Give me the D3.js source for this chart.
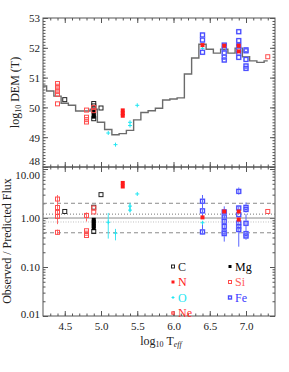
<!DOCTYPE html>
<meta charset="utf-8">
<style>
  body { margin: 0; background: #fff; }
  text { font-family: "Liberation Serif", "DejaVu Serif", serif; }
  .tick text { font-size: 11px; fill: #222; }
  .tick line { stroke: #555; }
</style>
<script src="https://d3js.org/d3.v7.min.js"></script>
<div id="my_dataviz"></div>
<script>
// DEM histogram (log T bin centres and log DEM)
const demT   = [4.2, 4.3, 4.4, 4.5, 4.6, 4.7, 4.8, 4.9, 5.0, 5.1, 5.2, 5.3, 5.4, 5.5, 5.6, 5.7,
                5.8, 5.9, 6.0, 6.1, 6.2, 6.3, 6.4, 6.5, 6.6, 6.7, 6.8, 6.9, 7.0, 7.1, 7.2, 7.3];
const demVal = [50.72, 50.55, 50.38, 50.14, 50.07, 49.88, 49.88, 49.94, 49.50, 49.26, 49.08, 49.12,
                49.23, 49.58, 49.83, 49.89, 49.97, 50.25, 50.28, 50.32, 51.12, 51.66, 52.12, 51.95,
                51.82, 51.95, 51.82, 51.99, 51.70, 51.56, 51.51, 51.56];

// top panel points [logT, logDEM]
const topC  = [[4.5, 50.26], [4.9, 50.13], [4.9, 50.05], [4.9, 49.97], [4.9, 49.62], [5.0, 49.98]];
const topMg = [[4.9, 49.90], [4.9, 49.83], [4.9, 49.76], [4.9, 49.69]];
const topSi = [[4.4, 50.80], [4.4, 50.71], [4.4, 50.62], [4.4, 50.53], [4.4, 50.44], [4.4, 50.12],
               [4.8, 49.91], [4.8, 49.67], [4.8, 49.59], [4.8, 49.51], [4.9, 50.00], [4.9, 49.89], [7.3, 51.70]];
const topN  = [[5.3, 49.90], [5.3, 49.80], [5.3, 49.72], [6.4, 52.09], [6.7, 52.07], [6.9, 52.07], [6.9, 51.88]];
const topO  = [[5.1, 49.14], [5.2, 48.75], [5.4, 49.50], [5.4, 49.39], [5.5, 50.07], [6.4, 51.98]];
const topFe = [[6.4, 52.43], [6.4, 52.26], [6.4, 51.85], [6.7, 52.09], [6.7, 51.96], [6.7, 51.83],
               [6.7, 51.69], [6.7, 51.59], [6.9, 52.54], [6.9, 52.24], [6.9, 52.07], [6.9, 51.95],
               [6.9, 51.82], [6.9, 51.68], [7.0, 51.93], [7.0, 51.90], [7.0, 51.61], [7.0, 51.39], [7.0, 51.31]];

// bottom panel [logT, ratio, errLo, errHi]
const ratC  = [[4.5, 1.36], [4.9, 1.66], [4.9, 0.53], [5.0, 3.0]];
const ratMg = [[4.9, 0.92], [4.9, 0.84], [4.9, 0.76], [4.9, 0.69], [4.9, 0.62]];
const ratSi = [[4.4, 2.44, 2.0, 2.95], [4.4, 1.64, 1.35, 2.0], [4.4, 1.30, 1.05, 1.6], [4.4, 1.08, 0.75, 1.4],
               [4.4, 0.51, 0.45, 0.58], [4.8, 1.13, 0.85, 1.3], [4.8, 0.55], [4.8, 0.49], [4.8, 0.44],
               [4.9, 1.6], [4.9, 1.33], [7.3, 1.36]];
const ratN  = [[5.3, 5.2], [5.3, 4.4], [6.4, 1.03], [6.7, 1.36], [6.9, 1.36], [6.9, 0.93]];
const ratO  = [[5.1, 0.82, 0.38, 1.27], [5.2, 0.49, 0.35, 0.6], [5.4, 1.75, 1.4, 2.05], [5.4, 1.45, 1.3, 1.75],
               [5.5, 3.1], [6.4, 0.8]];
const ratFe = [[6.4, 2.2, 1.6, 2.95], [6.4, 1.4, 1.0, 1.9], [6.4, 0.52, 0.46, 0.75],
               [6.7, 1.33, 1.0, 1.73], [6.7, 1.05], [6.7, 0.85, 0.33, 1.2], [6.7, 0.67], [6.7, 0.52], [6.7, 0.48],
               [6.9, 3.5, 3.0, 4.2], [6.9, 1.6, 1.2, 1.73], [6.9, 1.17], [6.9, 0.79, 0.26, 1.1], [6.9, 0.67], [6.9, 0.58],
               [7.0, 1.65, 1.3, 2.08], [7.0, 1.5], [7.0, 0.78, 0.36, 1.2], [7.0, 0.48], [7.0, 0.43]];

const xTicks = [4.5, 5.0, 5.5, 6.0, 6.5, 7.0];
const topTicks = [48, 49, 50, 51, 52, 53];
const botTicks = [0.01, 0.1, 1, 10];
const refLines = [2.0, 1.0, 0.5];

const legendNames = ["C", "N", "O", "Ne", "Mg", "Si", "Fe"];

const W = 289, H = 372;
const svg = d3.select("#my_dataviz").append("svg")
    .attr("width", W).attr("height", H);

const x = d3.scaleLinear().domain([4.2, 7.4]).range([43, 275]);
const yT = d3.scaleLinear().domain([48, 53]).range([167, 18]);
const yB = d3.scaleLog().domain([0.01, 11]).range([316, 167]);

const col = {C: "#222", N: "#ff1a1a", O: "#22e6f2", Ne: "#ff3030", Mg: "#000", Si: "#ff4d4d", Fe: "#3b3bff"};
const errCol = {Si: "#ff6a6a", O: "#3ee6f2", Fe: "#5a66ff", N: "#ff4040", C: "#444", Mg: "#444"};

function marker(g, type, cx, cy, color, s) {
  if (type === "open") {
    g.append("rect").attr("x", cx - s/2).attr("y", cy - s/2).attr("width", s).attr("height", s)
      .attr("fill", "none").attr("stroke", color).attr("stroke-width", 1);
  } else if (type === "filled") {
    g.append("rect").attr("x", cx - s/2).attr("y", cy - s/2).attr("width", s).attr("height", s)
      .attr("fill", color);
  } else if (type === "plus") {
    g.append("path").attr("d", `M${cx - s/2},${cy}H${cx + s/2}M${cx},${cy - s/2}V${cy + s/2}`)
      .attr("stroke", color).attr("stroke-width", 1);
  } else if (type === "fe") {
    g.append("rect").attr("x", cx - s/2).attr("y", cy - s/2).attr("width", s).attr("height", s)
      .attr("fill", "none").attr("stroke", "#8f97ff").attr("stroke-width", 1.6);
    g.append("rect").attr("x", cx - s/2).attr("y", cy - s/2).attr("width", s).attr("height", s)
      .attr("fill", "none").attr("stroke", color).attr("stroke-width", 0.8);
  } else if (type === "ne") {
    g.append("rect").attr("x", cx - s/2).attr("y", cy - s/2).attr("width", s).attr("height", s)
      .attr("fill", "#ff9a9a").attr("stroke", color).attr("stroke-width", 0.8);
  }
}

const sym = {C: "open", N: "filled", O: "plus", Ne: "ne", Mg: "filled", Si: "open", Fe: "fe"};

// ---------- frames, axes ----------
function frame(y0, y1) {
  svg.append("rect").attr("x", 43).attr("y", y0).attr("width", 232).attr("height", y1 - y0)
    .attr("fill", "none").attr("stroke", "#555").attr("stroke-width", 1);
}

function xAxes(yPos, withLabels, dir) {
  const minor = [];
  for (let i = 43; i <= 73; i++) minor.push(i / 10);
  const g = svg.append("g").attr("transform", `translate(0,${yPos})`);
  const ax = (dir === "up" ? d3.axisBottom(x) : d3.axisTop(x));
  g.call(ax.tickValues(xTicks).tickSize(-5).tickPadding(withLabels ? 6 : 0)
    .tickFormat(withLabels ? d3.format(".1f") : ""));
  g.select(".domain").remove();
  const g2 = svg.append("g").attr("transform", `translate(0,${yPos})`);
  g2.call((dir === "up" ? d3.axisBottom(x) : d3.axisTop(x)).tickValues(minor).tickSize(-2.5).tickFormat(""));
  g2.select(".domain").remove();
}

frame(18, 167);
frame(167, 316);

// y axes, both panels, both sides
const topMinor = [];
for (let i = 480; i <= 530; i++) topMinor.push(i / 10);
const botMinor = [];
[0.01, 0.1, 1].forEach(d => { for (let k = 2; k <= 9; k++) botMinor.push(d * k); });

[["left", 43], ["right", 275]].forEach(([side, px]) => {
  const mk = side === "left" ? d3.axisLeft : d3.axisRight;
  const g = svg.append("g").attr("class", "ytop").attr("transform", `translate(${px},0)`);
  g.call(mk(yT).tickValues(topTicks).tickSize(-5).tickPadding(3)
    .tickFormat(side === "left" ? d3.format("d") : ""));
  g.select(".domain").remove();
  const g2 = svg.append("g").attr("transform", `translate(${px},0)`);
  g2.call(mk(yT).tickValues(topMinor).tickSize(-2.5).tickFormat(""));
  g2.select(".domain").remove();
  const g3 = svg.append("g").attr("class", "ybot").attr("transform", `translate(${px},0)`);
  g3.call(mk(yB).tickValues(botTicks).tickSize(-5).tickPadding(3)
    .tickFormat(side === "left" ? d3.format(".2f") : ""));
  g3.select(".domain").remove();
  const g4 = svg.append("g").attr("transform", `translate(${px},0)`);
  g4.call(mk(yB).tickValues(botMinor).tickSize(-2.5).tickFormat(""));
  g4.select(".domain").remove();
});
svg.selectAll(".tick text").attr("dy", "0.35em");

xAxes(18, false, "down");
xAxes(167, false, "up");
xAxes(167, false, "down");
xAxes(316, true, "up");
svg.selectAll(".tick text").style("font-size", "11px");

// keep edge labels off each other at the panel join, as in the original
svg.selectAll(".ytop .tick text").filter(d => d === 48).attr("dy", "-0.2em");
svg.selectAll(".ybot .tick text").filter(d => d === 10).attr("dy", "0.82em");
svg.selectAll(".ybot .tick text").filter(d => d === 0.01).attr("dy", "0.1em");

// ---------- top panel ----------
const line = d3.line().x((d, i) => x(demT[i])).y(d => yT(d)).curve(d3.curveStep);
svg.append("path").datum(demVal).attr("d", line)
  .attr("fill", "none").attr("stroke", "#6b6b6b").attr("stroke-width", 1.4);

const gT = svg.append("g");
topC.forEach(d => marker(gT, "open", x(d[0]), yT(d[1]), col.C, 4));
topMg.forEach(d => marker(gT, "filled", x(d[0]), yT(d[1]), col.Mg, 4));
topSi.forEach(d => marker(gT, "open", x(d[0]), yT(d[1]), col.Si, 4));
topO.forEach(d => marker(gT, "plus", x(d[0]), yT(d[1]), col.O, 4));
topFe.forEach(d => marker(gT, "fe", x(d[0]), yT(d[1]), col.Fe, 4));
topN.forEach(d => marker(gT, "filled", x(d[0]), yT(d[1]), col.N, 4));

// ---------- bottom panel ----------
const gL = svg.append("g");
const refStyle = {2.0: ["#8a8a8a", "4,3"], 1.0: ["#8a8a8a", null], 0.5: ["#8a8a8a", "4,3"]};
refLines.forEach(v => {
  gL.append("line").attr("x1", 43).attr("x2", 275).attr("y1", yB(v)).attr("y2", yB(v))
    .attr("stroke", refStyle[v][0]).attr("stroke-width", 1)
    .attr("stroke-dasharray", refStyle[v][1]);
});
gL.append("line").attr("x1", 43).attr("x2", 275).attr("y1", yB(1.2)).attr("y2", yB(1.2))
  .attr("stroke", "#777").attr("stroke-dasharray", "1,2");
gL.append("line").attr("x1", 43).attr("x2", 275).attr("y1", yB(0.83)).attr("y2", yB(0.83))
  .attr("stroke", "#c0c0c0").attr("stroke-dasharray", "1,1.5");

const gE = svg.append("g");
const gB = svg.append("g");
const bottomSets = [["C", ratC], ["Mg", ratMg], ["Si", ratSi], ["O", ratO], ["Fe", ratFe], ["N", ratN]];
bottomSets.forEach(([el, arr]) => {
  arr.forEach(d => {
    if (d.length > 2) {
      gE.append("line").attr("x1", x(d[0])).attr("x2", x(d[0]))
        .attr("y1", yB(d[2])).attr("y2", yB(d[3]))
        .attr("stroke", errCol[el]).attr("stroke-width", 1);
    }
  });
});
bottomSets.forEach(([el, arr]) => {
  arr.forEach(d => marker(gB, sym[el], x(d[0]), yB(d[1]), col[el], 4));
});

// ---------- legend ----------
const lg = svg.append("g");
const legPos = {C: [173, 266.5], N: [173, 282], O: [173, 297.5], Ne: [173, 313],
                Mg: [230, 266.5], Si: [230, 282], Fe: [230, 297.5]};
legendNames.forEach(n => {
  const [lx, ly] = legPos[n];
  marker(lg, sym[n], lx, ly, col[n], n === "Ne" ? 2.5 : 3);
  lg.append("text").attr("x", lx + 5).attr("y", ly + 4)
    .attr("fill", n === "Si" ? "#ff5c5c" : col[n]).style("font-size", "12px").text(n);
});

// ---------- titles ----------
const xt = svg.append("text").attr("x", 161).attr("y", 345).attr("text-anchor", "middle")
  .style("font-size", "12px").attr("fill", "#222");
xt.append("tspan").text("log");
xt.append("tspan").attr("dy", 2).style("font-size", "8px").text("10");
xt.append("tspan").attr("dy", -2).text(" T");
xt.append("tspan").attr("dy", 2).style("font-size", "8px").style("font-style", "italic").text("eff");

const yt = svg.append("text").attr("transform", "translate(19,92.5) rotate(-90)")
  .attr("text-anchor", "middle").style("font-size", "12px").attr("fill", "#222");
yt.append("tspan").text("log");
yt.append("tspan").attr("dy", 2).style("font-size", "8px").text("10");
yt.append("tspan").attr("dy", -2).text(" DEM (T)");

svg.append("text").attr("transform", "translate(11,241) rotate(-90)")
  .attr("text-anchor", "middle").style("font-size", "12px").attr("fill", "#222")
  .text("Observed / Predicted Flux");
</script>
</html>
